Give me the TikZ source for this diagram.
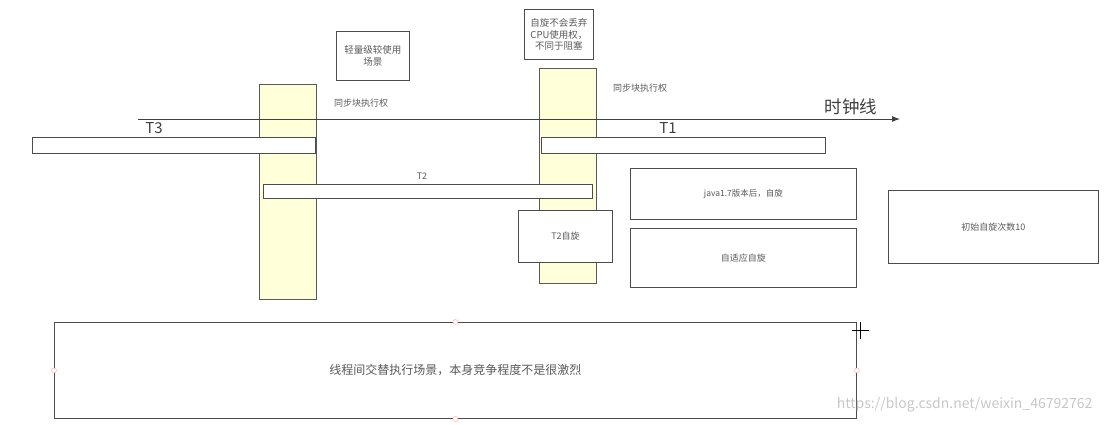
\documentclass[tikz,border=0pt]{standalone}
\usepackage{fontspec}
\setmainfont{Noto Sans CJK SC}
\usetikzlibrary{arrows.meta}
\definecolor{lanefill}{HTML}{FFFFDA}
\definecolor{txtgray}{HTML}{5A5A5A}
\tikzset{
  lane/.style={draw=black!65, fill=lanefill, line width=0.9pt, inner sep=0pt, anchor=north west},
  bar/.style={draw=black!70, fill=white, line width=0.9pt, inner sep=0pt, anchor=north west},
  note/.style={draw=black!70, fill=white, line width=0.9pt, inner sep=0pt, anchor=north west,
    align=center, text=txtgray, font=\fontsize{9}{11}\selectfont},
  small/.style={text=txtgray, font=\fontsize{9}{11}\selectfont},
  thread/.style={text=black!75, font=\fontsize{15}{16}\selectfont},
  handle/.style={circle, draw=red!35, fill=white, inner sep=0pt, minimum size=5pt}
}
\begin{document}
\begin{tikzpicture}[x=1pt, y=-1pt]
  \useasboundingbox (0,0) rectangle (1105,424);

  % sync lanes
  \node[lane, minimum width=57, minimum height=215] (laneA) at (259,84) {};
  \node[lane, minimum width=57, minimum height=215] (laneB) at (539,68) {};

  % notes above
  \node[note, minimum width=73, minimum height=49, font=\fontsize{9.5}{12}\selectfont] (light) at (336,31) {轻量级较使用\\场景};
  \node[note, minimum width=69, minimum height=50, font=\fontsize{9.5}{11.5}\selectfont] (spin) at (524,9) {自旋不会丢弃\\CPU使用权，\\不同于阻塞};
  \node[small] (syncA) at (361,103) {同步块执行权};
  \node[small] (syncB) at (640,88) {同步块执行权};

  % clock line
  \coordinate (tstart) at (138,119);
  \coordinate (tend) at (900,119);
  \draw[black!75, line width=1pt, -{Latex[length=8pt, width=6pt]}] (tstart) -- (tend);
  \node[thread, font=\fontsize{17.5}{18}\selectfont] (clock) at (851,107) {时钟线};

  % threads
  \node[thread] (t3) at (154,128) {T3};
  \node[thread] (t1) at (668,128) {T1};
  \node[bar, minimum width=283, minimum height=16] (t3bar) at (32,137) {};
  \node[bar, minimum width=284, minimum height=16] (t1bar) at (541,137) {};
  \node[bar, minimum width=329, minimum height=14] (t2bar) at (263,184) {};
  \node[small] (t2) at (422,176) {T2};
  \node[note, minimum width=94, minimum height=52] (t2spin) at (518,210) {T2自旋};

  % spin notes
  \node[note, minimum width=226, minimum height=51, font=\fontsize{8.5}{10}\selectfont] (java) at (630,168) {java1.7版本后，自旋};
  \node[note, minimum width=226, minimum height=59] (adapt) at (630,228) {自适应自旋};
  \node[note, minimum width=210, minimum height=73] (init) at (888,190) {初始自旋次数10};

  % scenario
  \node[note, minimum width=802, minimum height=96, font=\fontsize{12}{14}\selectfont] (scene) at (54,322) {线程间交替执行场景，本身竞争程度不是很激烈};
  \foreach \a in {north,south,east,west}
    \node[handle] at (scene.\a) {};
  \draw[black, line width=0.8pt] (860,322) -- (860,339) (852,330) -- (869,330);

  \node[black!22, font=\fontsize{14}{15}\selectfont, anchor=east] (mark) at (1096,405) {https://blog.csdn.net/weixin\_46792762};
\end{tikzpicture}
\end{document}
